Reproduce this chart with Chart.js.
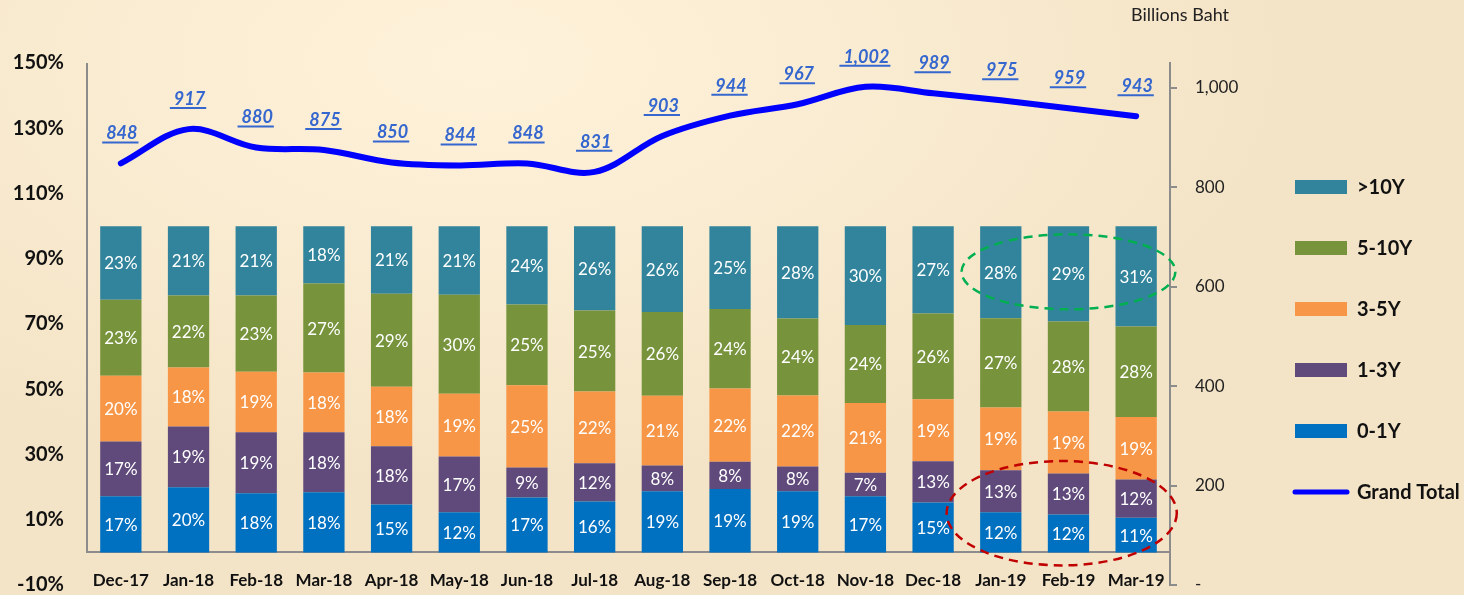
<!DOCTYPE html>
<html>
<head>
<meta charset="utf-8">
<script src="https://cdn.jsdelivr.net/npm/chart.js@4"></script>
<style>
html, body { margin: 0; padding: 0; }
body {
  width: 1464px; height: 595px; overflow: hidden;
  background: radial-gradient(ellipse 800px 420px at 480px 60px, #fef2da 0%, #f9ebd0 55%, #f4e4c7 100%);
}
canvas { display: block; }
</style>
</head>
<body>
<canvas id="chart" width="1464" height="595"></canvas>
<script>
var months = ['Dec-17','Jan-18','Feb-18','Mar-18','Apr-18','May-18','Jun-18','Jul-18',
              'Aug-18','Sep-18','Oct-18','Nov-18','Dec-18','Jan-19','Feb-19','Mar-19'];
// share of outstanding (%)
var y0to1   = [17.2, 20.0, 18.1, 18.4, 14.7, 12.3, 16.8, 15.6, 18.7, 19.4, 18.7, 17.2, 15.3, 12.3, 11.6, 10.6];
var y1to3   = [16.8, 18.6, 18.7, 18.4, 17.8, 17.1,  9.2, 11.7,  7.9,  8.4,  7.6,  7.2, 12.6, 12.9, 12.6, 11.7];
var y3to5   = [20.1, 18.1, 18.6, 18.3, 18.3, 19.2, 25.2, 22.0, 21.4, 22.4, 21.8, 21.4, 19.0, 19.2, 19.0, 19.2];
var y5to10  = [23.3, 22.0, 23.3, 27.3, 28.5, 30.4, 24.8, 24.8, 25.7, 24.4, 23.6, 23.9, 26.3, 27.4, 27.6, 27.7];
var yOver10 = [22.6, 21.3, 21.3, 17.6, 20.7, 21.0, 24.0, 25.9, 26.3, 25.4, 28.3, 30.3, 26.8, 28.2, 29.2, 30.8];
// billions baht
var grandTotal = [848, 917, 880, 875, 850, 844, 848, 831, 903, 944, 967, 1002, 989, 975, 959, 943];

var pctTicks = [-10, 10, 30, 50, 70, 90, 110, 130, 150];
var bahtTicks = [0, 200, 400, 600, 800, 1000];

var FONT = 'Lato, "Open Sans", sans-serif';
Chart.defaults.font.family = FONT;

var legendOrder = ['>10Y', '5-10Y', '3-5Y', '1-3Y', '0-1Y', 'Grand Total'];

var extras = {
  id: 'extras',
  beforeDatasetsDraw: function(chart) {
    var ctx = chart.ctx, y = chart.scales.y, a = chart.chartArea;
    ctx.save();
    ctx.strokeStyle = '#8c8c8c';
    ctx.lineWidth = 2;
    ctx.beginPath();
    ctx.moveTo(a.left, a.top);
    ctx.lineTo(a.left, y.getPixelForValue(0));
    ctx.stroke();
    ctx.restore();
  },
  afterDatasetsDraw: function(chart) {
    var ctx = chart.ctx;
    ctx.save();
    ctx.textAlign = 'center';
    ctx.textBaseline = 'middle';
    ctx.font = '17px ' + FONT;
    ctx.fillStyle = '#ffffff';
    chart.data.datasets.forEach(function(ds, i) {
      if (ds.type === 'line') return;
      chart.getDatasetMeta(i).data.forEach(function(bar, j) {
        ctx.fillText(Math.round(ds.data[j]) + '%', bar.x, (bar.y + bar.base) / 2 + 1);
      });
    });

    // grand total labels, underlined
    var li = chart.data.datasets.findIndex(function(d) { return d.type === 'line'; });
    var lds = chart.data.datasets[li];
    ctx.font = 'italic bold 18px ' + FONT;
    ctx.fillStyle = '#3567cf';
    ctx.strokeStyle = '#3567cf';
    ctx.lineWidth = 2;
    chart.getDatasetMeta(li).data.forEach(function(pt, j) {
      var txt = lds.data[j].toLocaleString('en-US');
      var w = ctx.measureText(txt).width;
      ctx.fillText(txt, pt.x + 1, pt.y - 30);
      ctx.beginPath();
      ctx.moveTo(pt.x - w / 2 - 3, pt.y - 21);
      ctx.lineTo(pt.x + w / 2 + 2, pt.y - 21);
      ctx.stroke();
    });
    ctx.restore();
  },
  afterDraw: function(chart) {
    var ctx = chart.ctx, x = chart.scales.x, y = chart.scales.y, y1 = chart.scales.y1;
    ctx.save();
    ctx.lineWidth = 2.5;
    ctx.setLineDash([9, 6]);
    // green ring around latest >10Y
    ctx.strokeStyle = '#00b050';
    ctx.beginPath();
    ctx.ellipse(x.getPixelForValue(14), y.getPixelForValue(86),
      x.getPixelForValue(15.58) - x.getPixelForValue(14),
      y.getPixelForValue(86) - y.getPixelForValue(97.5), 0, 0, Math.PI * 2);
    ctx.stroke();
    // red ring around latest short end
    ctx.strokeStyle = '#c00000';
    ctx.beginPath();
    ctx.ellipse(x.getPixelForValue(13.9), y.getPixelForValue(12),
      x.getPixelForValue(15.6) - x.getPixelForValue(13.9),
      y.getPixelForValue(12) - y.getPixelForValue(28), 0, 0, Math.PI * 2);
    ctx.stroke();
    ctx.setLineDash([]);

    ctx.font = '18px ' + FONT;
    ctx.fillStyle = '#222';
    ctx.textAlign = 'center';
    ctx.textBaseline = 'middle';
    ctx.fillText('Billions Baht', y1.left + 10, 15);
    ctx.restore();
  }
};

function bar(label, data, color) {
  return { type: 'bar', label: label, data: data, backgroundColor: color,
           borderWidth: 0, yAxisID: 'y', stack: 's', order: 1,
           barPercentage: 0.61, categoryPercentage: 1 };
}

new Chart(document.getElementById('chart'), {
  data: {
    labels: months,
    datasets: [
      bar('0-1Y', y0to1, '#0070c0'),
      bar('1-3Y', y1to3, '#604a7b'),
      bar('3-5Y', y3to5, '#f79646'),
      bar('5-10Y', y5to10, '#77933c'),
      bar('>10Y', yOver10, '#31849b'),
      { type: 'line', label: 'Grand Total', data: grandTotal, yAxisID: 'y1', order: 0,
        borderColor: '#0000ff', borderWidth: 6, pointRadius: 0, tension: 0.35,
        borderCapStyle: 'round', fill: false }
    ]
  },
  options: {
    responsive: false,
    devicePixelRatio: 1,
    animation: false,
    layout: { padding: { top: 63, left: 12, bottom: 10, right: 5 } },
    plugins: {
      tooltip: { enabled: false },
      legend: {
        position: 'right',
        align: 'center',
        maxWidth: 205,
        title: { display: true, text: '', font: { size: 1 }, padding: { top: 0, bottom: 30 } },
        labels: {
          usePointStyle: true,
          pointStyleWidth: 52,
          boxHeight: 14,
          padding: 41,
          color: '#111',
          font: { size: 20, weight: 'bold' },
          generateLabels: function(chart) {
            return legendOrder.map(function(name) {
              var i = chart.data.datasets.findIndex(function(d) { return d.label === name; });
              var ds = chart.data.datasets[i];
              var isLine = ds.type === 'line';
              return {
                text: name, datasetIndex: i, hidden: false,
                fillStyle: isLine ? 'rgba(0,0,0,0)' : ds.backgroundColor,
                strokeStyle: isLine ? ds.borderColor : ds.backgroundColor,
                lineWidth: isLine ? 5 : 0,
                lineCap: 'round',
                pointStyle: isLine ? 'line' : 'rect',
                fontColor: '#111'
              };
            });
          }
        }
      }
    },
    scales: {
      x: {
        type: 'category',
        position: { y: 0 },
        offset: true,
        afterFit: function(s) { s.height = 0; s.paddingLeft = 0; s.paddingRight = 0; },
        grid: { display: false, drawTicks: false },
        border: { display: true, color: '#8c8c8c', width: 2 },
        ticks: { color: '#111', font: { size: 17, weight: 'bold' }, padding: 18,
                 maxRotation: 0, autoSkip: false }
      },
      y: {
        type: 'linear',
        position: 'left',
        stacked: true,
        min: -10, max: 150,
        afterBuildTicks: function(s) { s.ticks = pctTicks.map(function(v) { return { value: v }; }); },
        afterFit: function(s) { s.width = 75; s.paddingTop = 0; s.paddingBottom = 0; },
        grid: { display: false, drawTicks: false },
        border: { display: false },
        ticks: { color: '#111', font: { size: 20, weight: 'bold' }, padding: 23,
                 callback: function(v) { return v + '%'; } }
      },
      y1: {
        type: 'linear',
        position: 'right',
        min: 0, max: 1050,
        afterBuildTicks: function(s) { s.ticks = bahtTicks.map(function(v) { return { value: v }; }); },
        afterFit: function(s) { s.width = 84; s.paddingTop = 0; s.paddingBottom = 0; },
        grid: { drawOnChartArea: false, drawTicks: true, tickLength: 7, color: '#8c8c8c', lineWidth: 2 },
        border: { display: true, color: '#8c8c8c', width: 2 },
        ticks: { color: '#222', font: { size: 17 }, padding: 18,
                 callback: function(v) { return v === 0 ? '-' : v.toLocaleString('en-US'); } }
      }
    }
  },
  plugins: [extras]
});
</script>
</body>
</html>
